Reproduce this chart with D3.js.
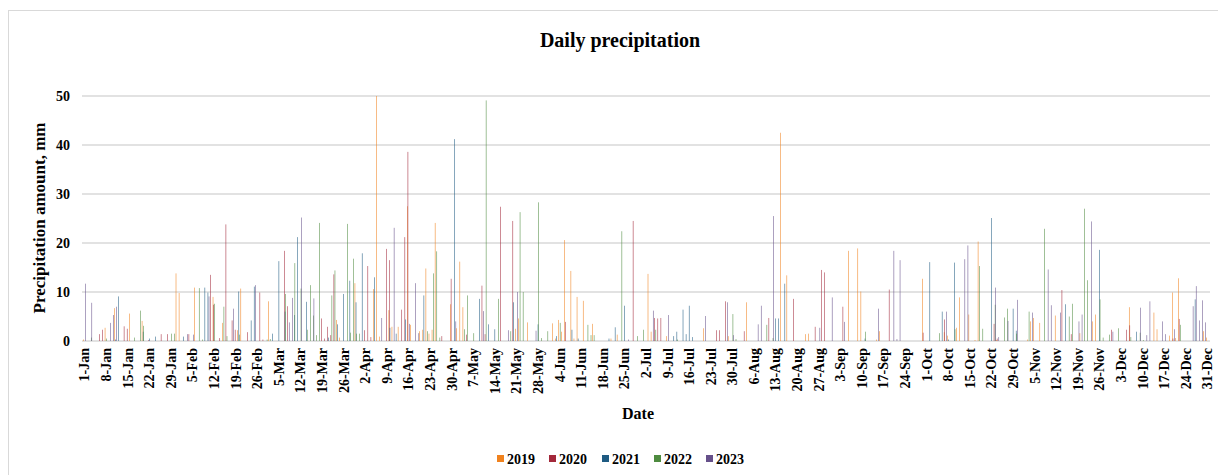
<!DOCTYPE html>
<html>
<head>
<meta charset="utf-8">
<script src="https://cdn.jsdelivr.net/npm/d3@7"></script>
<style>
  html, body { margin: 0; padding: 0; background: #fff; }
  svg { display: block; font-family: "Liberation Serif", "Times New Roman", serif; }
</style>
</head>
<body>
<svg id="chart" width="1218" height="475"></svg>
<script>
// Years shown as series and their colours
const years = ["2019", "2020", "2021", "2022", "2023"];
const colors = ["#F0821E", "#A3283A", "#1F5B82", "#4E8B3F", "#66508A"];

// Daily rainfall per year as [day of year (0 = 1 Jan), mm]; days not listed were dry
const rain2019 = [[0,0.3],[7,2.7],[10,6.7],[15,5.6],[19,4.1],[30,13.8],[31,9.8],[36,10.9],[42,9.0],[45,3.7],[50,2.2],[51,10.7],[60,8.1],[82,4.3],[83,0.7],[88,11.8],[94,10.6],[95,50.0],[96,0.9],[99,6.3],[100,2.9],[102,2.9],[105,27.5],[106,3.3],[109,2.0],[110,2.3],[111,14.8],[112,1.5],[113,2.3],[114,24.1],[119,7.5],[121,2.6],[122,16.2],[123,6.9],[140,2.5],[141,4.6],[144,3.8],[152,3.6],[153,0.5],[154,4.3],[155,1.9],[156,20.6],[158,14.3],[159,0.5],[160,9.0],[162,8.2],[165,3.5],[171,0.5],[173,1.3],[183,13.7],[184,1.9],[189,1.0],[201,2.6],[209,1.0],[215,7.9],[226,42.5],[228,13.4],[234,1.4],[235,1.5],[248,18.4],[251,18.9],[252,10.1],[257,0.3],[258,2.0],[272,12.7],[279,1.8],[280,1.1],[283,2.7],[284,8.9],[287,5.4],[289,0.2],[290,20.3],[296,0.2],[306,0.3],[307,4.0],[308,4.7],[310,3.7],[315,5.2],[323,1.6],[327,4.0],[328,5.4],[339,6.9],[347,5.8],[348,2.4],[352,1.1],[353,9.9],[354,0.6],[355,12.8],[363,2.0],[364,0.7]];
const rain2020 = [[5,1.4],[6,2.3],[13,3.0],[14,2.5],[21,0.2],[25,1.4],[27,1.4],[34,1.4],[41,13.5],[42,7.4],[44,0.6],[46,23.8],[48,4.2],[49,2.3],[53,1.8],[57,9.9],[58,0.3],[65,18.4],[66,7.1],[77,4.6],[78,0.5],[79,2.9],[80,1.2],[81,13.6],[91,2.2],[92,15.3],[93,0.8],[98,18.8],[99,16.5],[103,6.4],[104,21.2],[105,38.6],[116,1.0],[119,12.7],[124,1.3],[129,11.3],[130,1.4],[135,27.4],[139,24.5],[156,3.9],[178,24.5],[185,4.7],[186,4.6],[187,4.7],[205,2.2],[206,2.2],[208,8.1],[214,2.0],[222,4.7],[230,8.6],[237,2.9],[239,14.5],[240,14.0],[246,7.0],[261,10.5],[272,1.7],[279,4.4],[295,3.5],[296,0.5],[317,10.4],[320,1.4],[333,2.3],[338,2.3],[339,3.2],[353,0.5],[355,4.5]];
const rain2021 = [[10,0.3],[11,9.1],[19,1.9],[21,0.5],[23,0.9],[32,0.9],[39,10.9],[40,9.9],[50,10.1],[54,4.2],[55,11.1],[61,1.5],[63,16.3],[65,6.0],[68,5.3],[69,21.2],[72,8.0],[79,0.7],[82,3.4],[84,9.6],[86,12.3],[88,7.9],[90,17.9],[94,13.0],[99,2.7],[101,1.5],[104,4.4],[110,9.3],[120,41.2],[128,8.6],[131,3.4],[133,2.4],[139,7.9],[147,3.4],[153,1.0],[158,2.3],[160,0.5],[170,0.5],[172,2.8],[175,7.2],[191,1.0],[192,1.9],[194,6.4],[195,1.4],[196,7.2],[197,0.8],[224,4.6],[225,4.6],[227,11.7],[253,0.5],[274,16.1],[278,6.0],[280,0.3],[282,16.0],[294,25.1],[301,6.6],[302,2.1],[318,7.5],[329,18.6],[341,1.9],[360,8.5]];
const rain2022 = [[2,0.7],[7,0.5],[16,0.7],[18,6.2],[19,3.1],[28,1.5],[29,1.5],[37,10.8],[38,0.3],[42,7.6],[45,7.0],[46,1.0],[50,1.3],[59,0.3],[60,0.4],[65,9.6],[68,15.9],[70,10.7],[72,2.3],[73,11.4],[74,5.2],[75,1.2],[76,24.1],[80,9.3],[81,14.4],[85,23.9],[86,1.7],[87,16.8],[88,1.5],[89,1.5],[111,2.0],[113,13.8],[114,18.3],[115,0.7],[123,2.4],[124,9.3],[126,1.6],[130,49.1],[134,8.6],[138,2.0],[141,26.3],[142,10.0],[147,28.3],[148,0.6],[150,2.0],[154,3.7],[163,3.3],[164,1.2],[165,1.2],[174,22.4],[179,1.0],[181,2.3],[185,2.3],[192,0.3],[210,5.5],[211,0.4],[221,3.3],[223,0.6],[253,1.9],[277,1.6],[282,2.4],[290,15.3],[291,2.5],[295,7.4],[298,4.8],[299,6.6],[302,1.5],[306,6.0],[311,22.9],[319,5.0],[320,7.6],[324,27.0],[325,12.4],[329,8.5],[330,0.7],[332,1.3],[335,2.6],[339,0.8],[342,1.7],[343,0.2],[355,3.3]];
const rain2023 = [[0,11.7],[2,7.8],[8,3.7],[9,5.3],[10,7.0],[33,1.4],[35,1.3],[40,9.1],[48,6.6],[55,11.4],[66,3.8],[67,8.8],[70,25.2],[74,8.7],[96,4.7],[100,23.1],[105,3.5],[107,11.8],[108,1.6],[120,4.0],[129,6.1],[137,2.2],[140,10.0],[146,2.1],[176,0.3],[184,6.2],[189,5.3],[201,5.1],[208,7.9],[210,1.2],[218,3.4],[219,7.2],[223,25.5],[238,2.7],[242,8.9],[246,3.9],[257,6.6],[262,18.4],[263,0.4],[264,16.5],[279,6.0],[285,16.7],[286,19.5],[295,10.9],[296,0.8],[299,4.1],[302,8.4],[307,5.8],[312,14.6],[313,7.3],[316,5.8],[322,4.0],[323,5.4],[326,24.4],[333,1.9],[342,6.8],[344,1.2],[345,8.1],[349,4.0],[350,1.4],[353,2.4],[359,7.1],[360,11.2],[361,4.2],[362,8.3],[363,3.8]];

// Weekly date labels on the x axis
const tickLabels = ["1-Jan","8-Jan","15-Jan","22-Jan","29-Jan","5-Feb","12-Feb","19-Feb","26-Feb","5-Mar","12-Mar","19-Mar","26-Mar","2-Apr","9-Apr","16-Apr","23-Apr","30-Apr","7-May","14-May","21-May","28-May","4-Jun","11-Jun","18-Jun","25-Jun","2-Jul","9-Jul","16-Jul","23-Jul","30-Jul","6-Aug","13-Aug","20-Aug","27-Aug","3-Sep","10-Sep","17-Sep","24-Sep","1-Oct","8-Oct","15-Oct","22-Oct","29-Oct","5-Nov","12-Nov","19-Nov","26-Nov","3-Dec","10-Dec","17-Dec","24-Dec","31-Dec"];
const yTicks = [0, 10, 20, 30, 40, 50];

// Categories: every calendar day of a (non-leap) year
const fmtDay = d3.timeFormat("%-d-%b");
const categories = d3.timeDays(new Date(2019, 0, 1), new Date(2020, 0, 1)).map(fmtDay);

// Expand each sparse list into one value per category
const seriesLists = [rain2019, rain2020, rain2021, rain2022, rain2023];
const series = years.map((yr, k) => {
  const vals = new Array(categories.length).fill(0);
  seriesLists[k].forEach(([d, v]) => { vals[d] = v; });
  return { year: yr, color: colors[k], values: vals };
});

const svg = d3.select("#chart");

// Chart frame
svg.append("rect")
  .attr("x", 8.5).attr("y", 10.5)
  .attr("width", 1230).attr("height", 480)
  .attr("fill", "#fff").attr("stroke", "#d9d9d9").attr("stroke-width", 1);

const plot = { left: 83, right: 1209, top: 96, bottom: 341 };

const x = d3.scaleBand().domain(categories).range([plot.left, plot.right]).paddingInner(0).paddingOuter(0);
const xs = d3.scaleBand().domain(years).range([0, x.bandwidth()]).paddingInner(0).paddingOuter(0.35);
const y = d3.scaleLinear().domain([0, 50]).range([plot.bottom, plot.top]);

// Horizontal gridlines
svg.append("g")
  .selectAll("line")
  .data(yTicks)
  .join("line")
  .attr("x1", plot.left - 1).attr("x2", plot.right + 1)
  .attr("y1", d => y(d)).attr("y2", d => y(d))
  .attr("stroke", "#d9d9d9").attr("stroke-width", 1.6);

// Bars: one thin column per year inside each day
const barsG = svg.append("g");
series.forEach(s => {
  barsG.append("g")
    .attr("fill", s.color)
    .selectAll("rect")
    .data(s.values.map((v, i) => ({ cat: categories[i], v })).filter(d => d.v > 0))
    .join("rect")
    .attr("x", d => x(d.cat) + xs(s.year))
    .attr("width", xs.bandwidth())
    .attr("y", d => y(d.v))
    .attr("height", d => y(0) - y(d.v));
});

// Y axis labels
const yAxis = d3.axisLeft(y).tickValues(yTicks).tickSize(0).tickPadding(12).tickFormat(d3.format("d"));
const yG = svg.append("g").attr("transform", `translate(${plot.left - 1},0)`).call(yAxis);
yG.select(".domain").remove();
yG.selectAll("text")
  .attr("font-family", "Liberation Serif, Times New Roman, serif")
  .attr("font-size", 14).attr("font-weight", "bold").attr("fill", "#000");

// X axis labels (rotated)
const xAxis = d3.axisBottom(x).tickValues(tickLabels).tickSize(0).tickPadding(0);
const xG = svg.append("g").attr("transform", `translate(0,${plot.bottom})`).call(xAxis);
xG.select(".domain").remove();
xG.selectAll("text")
  .attr("font-family", "Liberation Serif, Times New Roman, serif")
  .attr("font-size", 14).attr("font-weight", "bold").attr("fill", "#000")
  .attr("text-anchor", "end")
  .attr("transform", "rotate(-90)")
  .attr("x", -7).attr("y", 0).attr("dy", "0.35em");

// Titles
svg.append("text")
  .attr("x", 620).attr("y", 47)
  .attr("text-anchor", "middle")
  .attr("font-size", 20).attr("font-weight", "bold")
  .text("Daily precipitation");

svg.append("text")
  .attr("transform", "translate(45,218) rotate(-90)")
  .attr("text-anchor", "middle")
  .attr("font-size", 17).attr("font-weight", "bold")
  .text("Precipitation amount, mm");

svg.append("text")
  .attr("x", 638).attr("y", 419)
  .attr("text-anchor", "middle")
  .attr("font-size", 16).attr("font-weight", "bold")
  .text("Date");

// Legend
const legend = svg.append("g");
const legendX = [497, 549, 602, 654, 706];
series.forEach((s, k) => {
  const g = legend.append("g").attr("transform", `translate(${legendX[k]},455)`);
  g.append("rect").attr("x", 0).attr("y", 0).attr("width", 7).attr("height", 7).attr("fill", s.color);
  g.append("text").attr("x", 10).attr("y", 8.5)
    .attr("font-size", 14).attr("font-weight", "bold").text(s.year);
});
</script>
</body>
</html>
